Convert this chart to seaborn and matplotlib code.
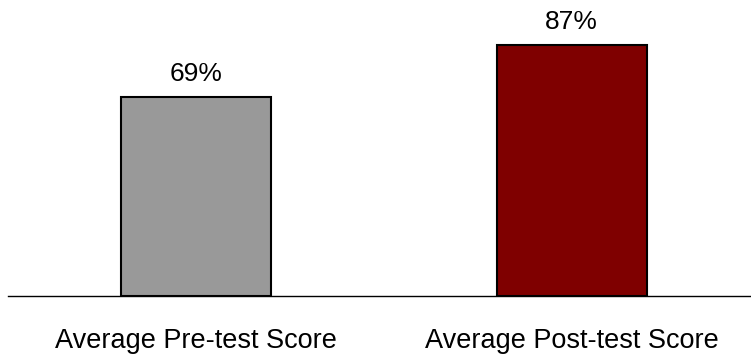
import matplotlib
matplotlib.use("Agg")
import matplotlib.pyplot as plt
import seaborn as sns
import pandas as pd

categories = ["Average Pre-test Score", "Average Post-test Score"]
scores = [69, 87]
bar_colors = ["#999999", "#7f0000"]

sns.set_theme(style="white")
plt.rcParams["font.family"] = ["Liberation Sans", "DejaVu Sans"]

df = pd.DataFrame({"label": categories, "score": scores})

fig = plt.figure(figsize=(7.51, 3.58), dpi=100)
ax = fig.add_axes([8 / 751, 62 / 358, 1 - 8 / 751, 1 - 62 / 358 - 7.5 / 358])

sns.barplot(data=df, x="label", y="score", hue="label", palette=bar_colors,
            width=0.4, edgecolor="black", linewidth=1.5, saturation=1,
            legend=False, ax=ax)

for patch, val in zip(ax.patches, scores):
    ax.text(patch.get_x() + patch.get_width() / 2, val + 5.5, f"{val}%",
            ha="center", va="baseline", fontsize=19, color="black")

ax.set_ylim(0, 100)
ax.set_xlim(-0.5, 1.477)
ax.set_xlabel("")
ax.set_ylabel("")
ax.set_yticks([])
ax.tick_params(axis="x", length=0, pad=23, labelsize=19.5)
for lbl in ax.get_xticklabels():
    lbl.set_color("black")
for side in ["top", "right", "left"]:
    ax.spines[side].set_visible(False)
ax.spines["bottom"].set_color("black")
ax.spines["bottom"].set_linewidth(1.0)

fig.savefig("out.png", dpi=100)
